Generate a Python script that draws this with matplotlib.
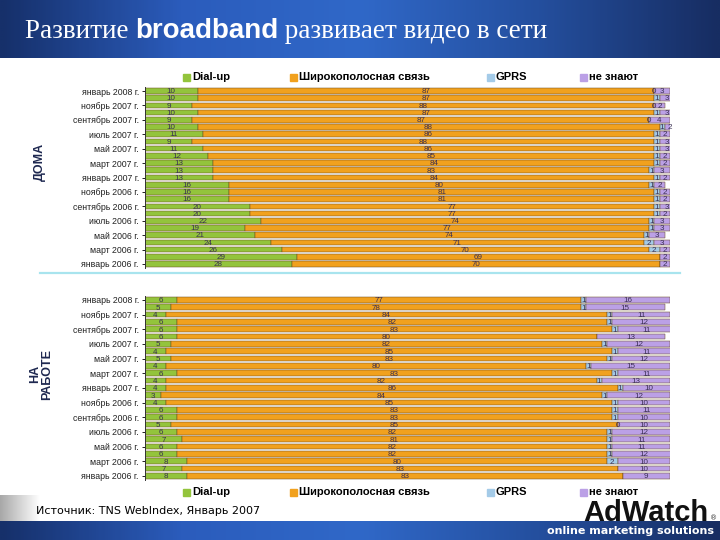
import numpy as np
import matplotlib.pyplot as plt
from matplotlib.colors import LinearSegmentedColormap

W, H = 720, 540

# rows from top (январь 2008) to bottom (январь 2006), one per month
tick_labels = ["январь 2008 г.", "ноябрь 2007 г.", "сентябрь 2007 г.", "июль 2007 г.",
               "май 2007 г.", "март 2007 г.", "январь 2007 г.", "ноябрь 2006 г.",
               "сентябрь 2006 г.", "июль 2006 г.", "май 2006 г.", "март 2006 г.",
               "январь 2006 г."]
series = ["Dial-up", "Широкополосная связь", "GPRS", "не знают"]
colors = ["#93c43c", "#f1a11e", "#a4cbe8", "#bba0e6"]

home_dial = [10, 10, 9, 10, 9, 10, 11, 9, 11, 12, 13, 13, 13, 16, 16, 16, 20, 20, 22, 19, 21, 24, 26, 29, 28]
home_bb = [87, 87, 88, 87, 87, 88, 86, 88, 86, 85, 84, 83, 84, 80, 81, 81, 77, 77, 74, 77, 74, 71, 70, 69, 70]
home_gprs = [0, 1, 0, 1, 0, 1, 1, 1, 1, 1, 1, 1, 1, 1, 1, 1, 1, 1, 1, 1, 1, 2, 2, None, None]
home_dk = [3, 3, 2, 3, 4, 2, 2, 3, 3, 2, 2, 3, 2, 2, 2, 2, 3, 2, 3, 3, 3, 3, 2, 2, 2]

work_dial = [6, 5, 4, 6, 6, 6, 5, 4, 5, 4, 6, 4, 4, 3, 4, 6, 6, 5, 6, 7, 6, 6, 8, 7, 8]
work_bb = [77, 78, 84, 82, 83, 80, 82, 85, 83, 80, 83, 82, 86, 84, 85, 83, 83, 85, 82, 81, 82, 82, 80, 83, 83]
work_gprs = [1, 1, 1, 1, 1, None, 1, 1, 1, 1, 1, 1, 1, 1, 1, 1, 1, 0, 1, 1, 1, 1, 2, None, None]
work_dk = [16, 15, 11, 12, 11, 13, 12, 11, 12, 15, 11, 13, 10, 12, 10, 11, 10, 10, 12, 11, 11, 12, 10, 10, 9]

fig = plt.figure(figsize=(7.2, 5.4), dpi=100)
fig.patch.set_facecolor("white")


def px(x, y, w, h):
    return [x / W, 1 - (y + h) / H, w / W, h / H]


def band(y, h):
    ax = fig.add_axes(px(0, y, W, h))
    cm = LinearSegmentedColormap.from_list("b", ["#16306a", "#2b5cbc", "#3068c8", "#244f9e", "#172d62"])
    g = np.tile(np.linspace(0, 1, 300), (20, 1))
    ax.imshow(g, cmap=cm, aspect="auto", extent=[0, 1, 0, 1])
    ax.set_axis_off()
    return ax


band(0, 58)
band(521, 19)

# soft grey edge at bottom-left
axg = fig.add_axes(px(0, 495, 40, 26))
gg = np.tile(np.linspace(0, 1, 100), (10, 1))
axg.imshow(gg, cmap=LinearSegmentedColormap.from_list("g", ["#a8a8a8", "#ffffff"]),
           aspect="auto", extent=[0, 1, 0, 1])
axg.set_axis_off()

# title with mixed fonts
r = fig.canvas.get_renderer()
x = 25
for txt, kw in [("Развитие ", dict(family="Liberation Serif", fontsize=19.5)),
                ("broadband", dict(family="Liberation Sans", fontsize=20, weight="bold")),
                (" развивает видео в сети", dict(family="Liberation Serif", fontsize=19.5))]:
    t = fig.text(x / W, 1 - 38 / H, txt, color="white", va="baseline", **kw)
    x += t.get_window_extent(r).width


def draw(rect, dial, bb, gprs, dk, legend_y):
    ax = fig.add_axes(rect)
    n = len(dial)
    y = np.arange(n)
    vals = [np.array([np.nan if v is None else v for v in s], dtype=float) for s in (dial, bb, gprs, dk)]
    left = np.zeros(n)
    for v, c in zip(vals, colors):
        w = np.nan_to_num(v)
        ax.barh(y, w, left=left, height=0.78, color=c, edgecolor="#6a4a20", linewidth=0.35)
        for i in range(n):
            if not np.isnan(v[i]):
                ax.text(left[i] + w[i] / 2, y[i] + 0.1, f"{int(v[i])}", ha="center", va="center",
                        fontsize=5.8, color="#3a2f52", family="Liberation Sans")
        left += w
    ax.set_xlim(0, 100)
    ax.set_ylim(n - 0.5, -0.5)
    ax.set_yticks(y[::2])
    ax.set_yticklabels(tick_labels, fontsize=6.3, family="Liberation Sans", color="#222222")
    ax.tick_params(axis="y", length=2.5, width=0.6, pad=2)
    ax.set_xticks([])
    for s in ["top", "right", "bottom"]:
        ax.spines[s].set_visible(False)
    ax.spines["left"].set_linewidth(0.7)
    ax.spines["left"].set_color("#333333")
    ax.set_facecolor("none")
    # legend
    for lx, name, c in zip([183, 290, 487, 580], series, colors):
        fig.patches.append(plt.Rectangle((lx / W, 1 - (legend_y + 3.5) / H), 7 / W, 7 / H,
                                         transform=fig.transFigure, color=c))
        fig.text((lx + 9) / W, 1 - legend_y / H, name, fontsize=8, weight="bold",
                 family="Liberation Sans", va="center", color="black")
    return ax


draw(px(145, 87.4, 525, 180.2), home_dial, home_bb, home_gprs, home_dk, 77)
draw(px(145, 296.3, 525, 183.3), work_dial, work_bb, work_gprs, work_dk, 492)

# separator
fig.add_artist(plt.Line2D([40 / W, 680 / W], [1 - 273 / H, 1 - 273 / H], color="#a8e4ee", lw=1.6))

fig.text(40 / W, 1 - 162 / H, "ДОМА", rotation=90, fontsize=9, weight="bold",
         family="Liberation Sans", color="#1e2850", ha="center", va="center")
fig.text(41 / W, 1 - 374 / H, "НА\nРАБОТЕ", rotation=90, fontsize=9, weight="bold",
         family="Liberation Sans", color="#1e2850", ha="center", va="center",
         multialignment="center", linespacing=1.0)

fig.text(36 / W, 1 - 511 / H, "Источник: TNS WebIndex, Январь 2007", fontsize=8,
         family="DejaVu Sans", va="center", color="black")

fig.text(708 / W, 1 - 521 / H, "AdWatch", fontsize=21, weight="heavy",
         family="Liberation Sans", ha="right", va="baseline", color="#111111")
fig.text(710 / W, 1 - 520 / H, "®", fontsize=5, family="DejaVu Sans", va="baseline", color="#333333")
fig.text(714 / W, 1 - 531 / H, "online marketing solutions", fontsize=8, weight="bold",
         family="DejaVu Sans", ha="right", va="center", color="white")

fig.savefig("out.png", dpi=100)
